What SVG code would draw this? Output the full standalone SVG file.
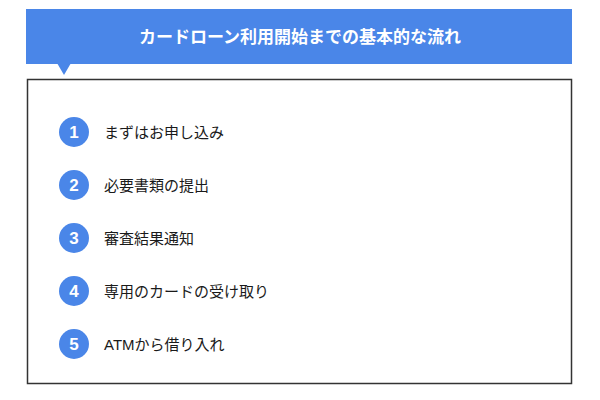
<svg xmlns="http://www.w3.org/2000/svg" width="600" height="400" viewBox="0 0 600 400">
<style>
.ttl{font-family:"Liberation Sans","Noto Sans CJK JP",sans-serif;font-size:17px;font-weight:bold;fill:#fff}
.num{font-family:"Liberation Sans",sans-serif;font-size:17px;font-weight:bold;fill:#fff}
.lbl{font-family:"Liberation Sans","Noto Sans CJK JP",sans-serif;font-size:15px;fill:#1a1a1a}
.dot{fill:#4a86e8}
</style>
<rect width="600" height="400" fill="#fff"/>
<g id="banner">
<rect x="26" y="9" width="546" height="55" fill="#4a86e8"/>
<polygon points="57,63 71,63 64,75" fill="#4a86e8"/>
<text class="ttl" x="300" y="43" text-anchor="middle">カードローン利用開始までの基本的な流れ</text>
</g>
<g id="box">
<rect x="27.5" y="79.5" width="544" height="304" fill="none" stroke="#333" stroke-width="1.5"/>
</g>
<g id="step1"><circle class="dot" cx="74" cy="132" r="15"/><text class="num" x="74" y="138" text-anchor="middle">1</text><text class="lbl" x="104" y="138">まずはお申し込み</text></g>
<g id="step2"><circle class="dot" cx="74" cy="185" r="15"/><text class="num" x="74" y="191" text-anchor="middle">2</text><text class="lbl" x="104" y="191">必要書類の提出</text></g>
<g id="step3"><circle class="dot" cx="74" cy="238" r="15"/><text class="num" x="74" y="244" text-anchor="middle">3</text><text class="lbl" x="104" y="244">審査結果通知</text></g>
<g id="step4"><circle class="dot" cx="74" cy="291" r="15"/><text class="num" x="74" y="297" text-anchor="middle">4</text><text class="lbl" x="104" y="297">専用のカードの受け取り</text></g>
<g id="step5"><circle class="dot" cx="74" cy="344" r="15"/><text class="num" x="74" y="350" text-anchor="middle">5</text><text class="lbl" x="104" y="350">ATMから借り入れ</text></g>
</svg>
